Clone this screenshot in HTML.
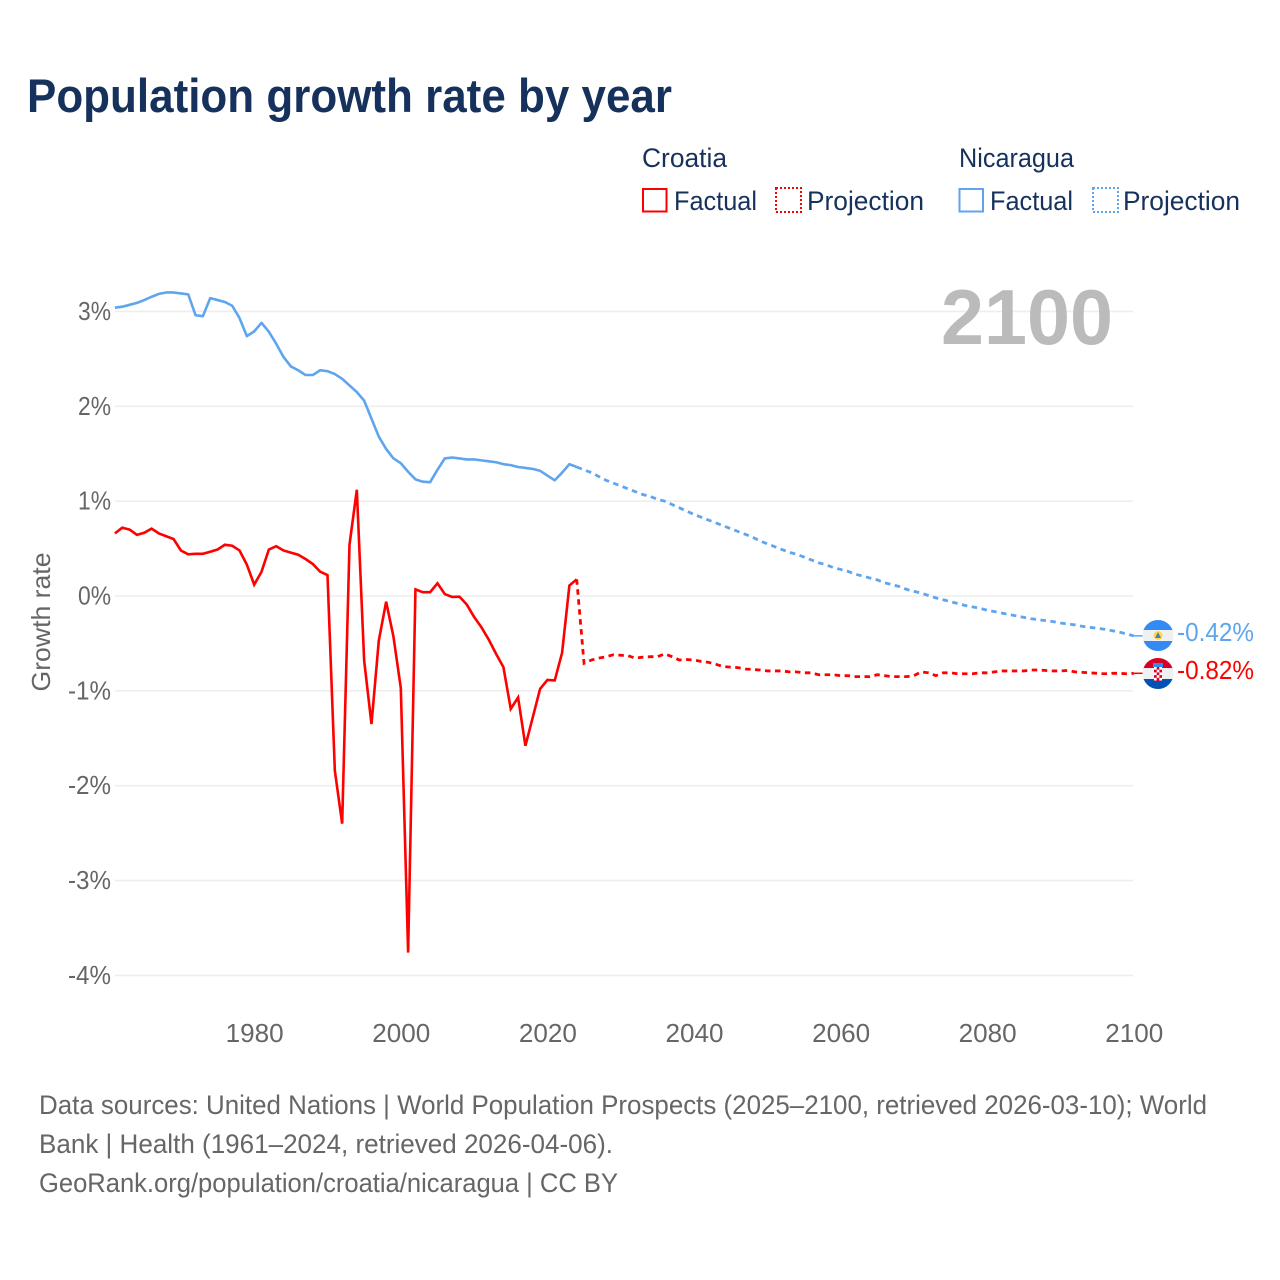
<!DOCTYPE html>
<html lang="en">
<head>
<meta charset="utf-8">
<title>Population growth rate by year</title>
<style>
html,body{margin:0;padding:0;background:#fff;width:1280px;height:1280px;overflow:hidden}
svg{display:block;font-family:"Liberation Sans",sans-serif}
</style>
</head>
<body>
<svg id="chart" xmlns="http://www.w3.org/2000/svg" width="1280" height="1280" viewBox="0 0 1280 1280">
  <defs>
    <clipPath id="flag-clip-ni"><circle cx="1158" cy="635.5" r="15.5"/></clipPath>
    <clipPath id="flag-clip-hr"><circle cx="1158" cy="673.5" r="15.5"/></clipPath>
  </defs>
  <rect width="1280" height="1280" fill="#fff"/>
  <text x="27" y="112" font-size="47" font-weight="700" fill="#16325c" textLength="645" lengthAdjust="spacingAndGlyphs">Population growth rate by year</text>

  <g font-size="27" fill="#16325c">
    <text x="642" y="167" textLength="85" lengthAdjust="spacingAndGlyphs">Croatia</text>
    <text x="959" y="167" textLength="115" lengthAdjust="spacingAndGlyphs">Nicaragua</text>
    <rect x="643" y="189" width="23.500" height="22.500" fill="none" stroke="#ff0000" stroke-width="2"/>
    <text x="674" y="210" textLength="83" lengthAdjust="spacingAndGlyphs">Factual</text>
    <rect x="776" y="188" width="25" height="24" fill="none" stroke="#ff0000" stroke-width="2" stroke-dasharray="2 2"/>
    <text x="807" y="210" textLength="117" lengthAdjust="spacingAndGlyphs">Projection</text>
    <rect x="959.500" y="189" width="23.500" height="22.500" fill="none" stroke="#5ea5ee" stroke-width="2"/>
    <text x="990" y="210" textLength="83" lengthAdjust="spacingAndGlyphs">Factual</text>
    <rect x="1093" y="188" width="25" height="24" fill="none" stroke="#5ea5ee" stroke-width="2" stroke-dasharray="2 2"/>
    <text x="1123" y="210" textLength="117" lengthAdjust="spacingAndGlyphs">Projection</text>
  </g>

  <g id="grid"></g>
  <g id="yticks"></g>
  <g id="xticks"></g>
  <text transform="translate(50,622) rotate(-90)" text-anchor="middle" font-size="26" fill="#666" textLength="139" lengthAdjust="spacingAndGlyphs">Growth rate</text>
  <text x="941" y="344" font-size="78" font-weight="700" fill="#bbbbbb" textLength="172" lengthAdjust="spacingAndGlyphs">2100</text>

  <g id="series"></g>

  <g clip-path="url(#flag-clip-ni)">
    <rect x="1142" y="620" width="32" height="11" fill="#338af3"/>
    <rect x="1142" y="630" width="32" height="11" fill="#f0f0f0"/>
    <rect x="1142" y="641" width="32" height="11" fill="#338af3"/>
    <circle cx="1158" cy="635.500" r="4.500" fill="#ffda44"/>
    <polygon points="1158,632 1161,638 1155,638" fill="#4a7fc0"/>
  </g>
  <g clip-path="url(#flag-clip-hr)">
    <rect x="1142" y="658" width="32" height="11" fill="#d80027"/>
    <rect x="1142" y="668" width="32" height="11" fill="#f0f0f0"/>
    <rect x="1142" y="679" width="32" height="11" fill="#0052b4"/>
    <rect x="1153" y="663" width="10" height="4" fill="#338af3"/>
    <rect x="1154" y="667" width="8" height="14" fill="#d80027"/>
    <rect x="1154" y="667" width="2.700" height="2.700" fill="#fff"/>
    <rect x="1159.300" y="667" width="2.700" height="2.700" fill="#fff"/>
    <rect x="1156.700" y="669.700" width="2.700" height="2.700" fill="#fff"/>
    <rect x="1154" y="672.400" width="2.700" height="2.700" fill="#fff"/>
    <rect x="1159.300" y="672.400" width="2.700" height="2.700" fill="#fff"/>
    <rect x="1156.700" y="675.100" width="2.700" height="2.700" fill="#fff"/>
    <rect x="1154" y="677.800" width="2.700" height="2.700" fill="#fff"/>
    <rect x="1159.300" y="677.800" width="2.700" height="2.700" fill="#fff"/>
  </g>
  <text x="1177" y="641" font-size="26" fill="#5ea5ee" textLength="77" lengthAdjust="spacingAndGlyphs">-0.42%</text>
  <text x="1177" y="679" font-size="26" fill="#ff0000" textLength="77" lengthAdjust="spacingAndGlyphs">-0.82%</text>

  <g font-size="27" fill="#666">
    <text x="39" y="1114" textLength="1168" lengthAdjust="spacingAndGlyphs">Data sources: United Nations | World Population Prospects (2025–2100, retrieved 2026-03-10); World</text>
    <text x="39" y="1153" textLength="574" lengthAdjust="spacingAndGlyphs">Bank | Health (1961–2024, retrieved 2026-04-06).</text>
    <text x="39" y="1192" textLength="579" lengthAdjust="spacingAndGlyphs">GeoRank.org/population/croatia/nicaragua | CC BY</text>
  </g>
</svg>
<script>
const xTickYears = [1980, 2000, 2020, 2040, 2060, 2080, 2100];
const yTickValues = [3, 2, 1, 0, -1, -2, -3, -4];
const factualStartYear = 1961;
const projectionStartYear = 2024;

const croatiaFactual = [0.66,0.72,0.70,0.645,0.667,0.71,0.66,0.63,0.60,0.48,0.44,0.445,0.445,0.467,0.49,0.54,0.53,0.48,0.33,0.12,
  0.256,0.49,0.525,0.48,0.457,0.435,0.39,0.337,0.256,0.22,-1.84,-2.40,0.54,1.12,-0.68,-1.35,-0.47,-0.06,-0.43,-0.97,
  -3.76,0.07,0.04,0.04,0.134,0.02,-0.01,-0.007,-0.09,-0.22,-0.33,-0.46,-0.61,-0.75,-1.19,-1.07,-1.58,-1.28,-0.98,-0.885,
  -0.89,-0.60,0.11,0.176];
const croatiaProjection = [0.176,-0.71,-0.675,-0.655,-0.64,-0.62,-0.625,-0.63,-0.655,-0.645,-0.64,-0.64,-0.61,-0.64,-0.675,-0.67,-0.675,
  -0.69,-0.70,-0.72,-0.745,-0.75,-0.755,-0.77,-0.775,-0.78,-0.79,-0.79,-0.79,-0.80,-0.80,-0.81,-0.81,-0.83,-0.83,-0.83,-0.84,
  -0.84,-0.85,-0.85,-0.85,-0.83,-0.84,-0.85,-0.85,-0.85,-0.84,-0.80,-0.81,-0.84,-0.81,-0.81,-0.82,-0.82,-0.82,-0.81,-0.81,
  -0.80,-0.79,-0.79,-0.79,-0.79,-0.78,-0.78,-0.785,-0.79,-0.79,-0.785,-0.80,-0.805,-0.81,-0.815,-0.82,-0.815,-0.815,-0.82,-0.815];

const nicaraguaFactual = [3.04,3.05,3.07,3.09,3.12,3.155,3.185,3.20,3.20,3.19,3.18,2.96,2.95,3.14,3.12,3.10,3.06,2.93,2.74,2.79,
  2.88,2.785,2.66,2.52,2.42,2.38,2.33,2.33,2.38,2.37,2.34,2.29,2.22,2.15,2.06,1.87,1.68,1.55,1.45,1.40,
  1.31,1.23,1.205,1.20,1.33,1.45,1.46,1.45,1.44,1.44,1.43,1.42,1.41,1.39,1.38,1.36,1.35,1.34,1.32,1.27,
  1.22,1.30,1.39,1.36];
const nicaraguaProjection = [1.36,1.33,1.30,1.26,1.22,1.19,1.16,1.13,1.10,1.07,1.05,1.02,1.00,0.965,0.93,0.895,0.86,
  0.83,0.80,0.77,0.74,0.71,0.68,0.65,0.62,0.58,0.55,0.52,0.49,0.46,0.44,0.41,0.38,0.35,0.33,0.30,0.28,
  0.26,0.23,0.21,0.19,0.17,0.14,0.12,0.10,0.07,0.05,0.03,0.005,-0.02,-0.04,-0.06,-0.08,-0.10,-0.115,-0.13,-0.15,
  -0.165,-0.18,-0.195,-0.21,-0.225,-0.24,-0.25,-0.26,-0.27,-0.285,-0.295,-0.305,-0.32,-0.33,-0.34,-0.35,-0.365,-0.38,-0.40,-0.42];

const NS = 'http://www.w3.org/2000/svg';
function xScale(year) { return 254.2 + (year - 1980) * 7.33; }
function yScale(value) { return 596 - value * 94.85; }

function make(tag, attrs) {
  const el = document.createElementNS(NS, tag);
  for (const k in attrs) el.setAttribute(k, attrs[k]);
  return el;
}

const gridGroup = document.getElementById('grid');
const yTickGroup = document.getElementById('yticks');
yTickValues.forEach(function (v) {
  const line = make('line', { x1: 115, x2: 1133, y1: yScale(v), y2: yScale(v), stroke: '#eeeeee', 'stroke-width': 1.6 });
  
  
  gridGroup.appendChild(line);
  const text = v + '%';
  const label = make('text', { x: 111, y: yScale(v) + 8.5, 'text-anchor': 'end', 'font-size': 26, fill: '#666', textLength: text.length === 2 ? 33 : 43, lengthAdjust: 'spacingAndGlyphs' });
  
  
  label.textContent = text;
  yTickGroup.appendChild(label);
});

const xTickGroup = document.getElementById('xticks');
xTickYears.forEach(function (yr) {
  const label = make('text', { x: xScale(yr) + 0.5, y: 1042, 'text-anchor': 'middle', 'font-size': 26, fill: '#666', textLength: 58, lengthAdjust: 'spacingAndGlyphs' });
  
  
  label.textContent = yr;
  xTickGroup.appendChild(label);
});

function pointsFor(values, startYear) {
  return values.map(function (v, i) {
    return xScale(startYear + i).toFixed(2) + ',' + yScale(v).toFixed(2);
  }).join(' ');
}

const seriesGroup = document.getElementById('series');

function addConnector(values, color) {
  const last = values[values.length - 1];
  const connector = make('line', { x1: xScale(2100), x2: 1143, y1: yScale(last), y2: yScale(last), stroke: color, 'stroke-width': 1.5 });
  
  
  seriesGroup.appendChild(connector);
}

addConnector(nicaraguaProjection, '#5ea5ee');
addConnector(croatiaProjection, '#ff0000');

const nicaraguaFactualLine = make('polyline', { points: pointsFor(nicaraguaFactual, factualStartYear), fill: 'none', stroke: '#5ea5ee', 'stroke-width': 2.6, 'stroke-linejoin': 'round' });


seriesGroup.appendChild(nicaraguaFactualLine);

const nicaraguaProjectionLine = make('polyline', { points: pointsFor(nicaraguaProjection, projectionStartYear), fill: 'none', stroke: '#5ea5ee', 'stroke-width': 2.8, 'stroke-dasharray': '5.500 4.500' });


seriesGroup.appendChild(nicaraguaProjectionLine);

const croatiaFactualLine = make('polyline', { points: pointsFor(croatiaFactual, factualStartYear), fill: 'none', stroke: '#ff0000', 'stroke-width': 2.6, 'stroke-linejoin': 'miter', 'stroke-miterlimit': 4 });


seriesGroup.appendChild(croatiaFactualLine);

const croatiaProjectionLine = make('polyline', { points: pointsFor(croatiaProjection, projectionStartYear), fill: 'none', stroke: '#ff0000', 'stroke-width': 2.8, 'stroke-dasharray': '5.500 4.500' });


seriesGroup.appendChild(croatiaProjectionLine);
</script>
</body>
</html>
